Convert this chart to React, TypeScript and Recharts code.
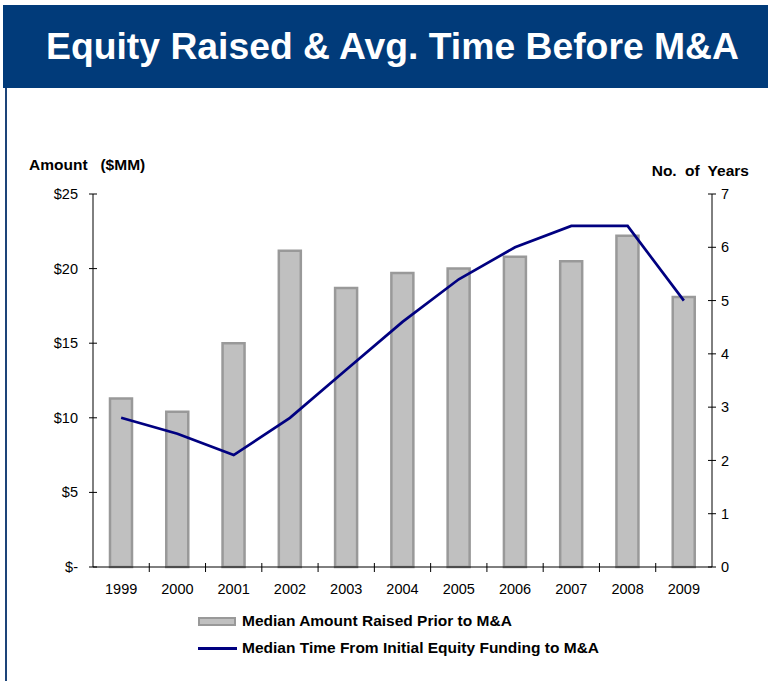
import React from 'react'
import { ComposedChart, Bar, Line, XAxis, YAxis } from 'recharts'

const years = ['1999', '2000', '2001', '2002', '2003', '2004', '2005', '2006', '2007', '2008', '2009']
const amountRaised = [11.3, 10.4, 15.0, 21.2, 18.7, 19.7, 20.0, 20.8, 20.5, 22.2, 18.1]
const yearsToMA = [2.8, 2.5, 2.1, 2.8, 3.7, 4.6, 5.4, 6.0, 6.4, 6.4, 5.0]
const amountTicks = [0, 5, 10, 15, 20, 25]
const yearTicks = [0, 1, 2, 3, 4, 5, 6, 7]

const data = years.map((y, i) => ({ year: y, amount: amountRaised[i], time: yearsToMA[i] }))

const FONT = '"Liberation Sans", Arial, sans-serif'
const PLOT_LEFT = 93
const PLOT_RIGHT = 712
const BAND = (PLOT_RIGHT - PLOT_LEFT) / years.length
const TICK_FS = 14.5

function LeftTick(props: any) {
  const { x, y, payload } = props
  const axisX = x + 15
  const v = Number(payload.value)
  return (
    <g>
      <line x1={axisX - 4} x2={axisX + 4} y1={y} y2={y} stroke="#000" />
      <text x={x} y={y} dy="0.35em" textAnchor="end" fontSize={TICK_FS} fontFamily={FONT} fill="#000">
        {v === 0 ? '$-' : `$${v}`}
      </text>
    </g>
  )
}

function RightTick(props: any) {
  const { x, y, payload } = props
  const axisX = x - 9
  return (
    <g>
      <line x1={axisX - 4} x2={axisX + 4} y1={y} y2={y} stroke="#000" />
      <text x={x} y={y} dy="0.35em" textAnchor="start" fontSize={TICK_FS} fontFamily={FONT} fill="#000">
        {payload.value}
      </text>
    </g>
  )
}

function BottomTick(props: any) {
  const { x, y, payload, index } = props
  const bx = x + BAND / 2
  return (
    <g>
      {index < years.length - 1 && <line x1={bx} x2={bx} y1={y - 4} y2={y + 5} stroke="#000" />}
      <text x={x} y={y + 22} dy="0.35em" textAnchor="middle" fontSize={TICK_FS} fontFamily={FONT} fill="#000">
        {payload.value}
      </text>
    </g>
  )
}

export default function App() {
  return (
    <div style={{ position: 'absolute', left: 0, top: 0, width: 768, height: 681, background: '#fff', fontFamily: FONT, overflow: 'hidden' }}>
      {/* title band */}
      <div
        style={{
          position: 'absolute',
          left: 3,
          top: 5,
          width: 765,
          height: 83,
          background: '#013b7a',
          color: '#fff',
          fontWeight: 'bold',
          fontSize: 37.3,
          lineHeight: '83px',
          textAlign: 'center',
          whiteSpace: 'nowrap',
          boxSizing: 'border-box',
          paddingLeft: 14,
        }}
      >
        Equity Raised &amp; Avg. Time Before M&amp;A
      </div>
      <div style={{ position: 'absolute', left: 5, top: 88, width: 2, height: 593, background: '#1d4479' }} />

      <div style={{ position: 'absolute', left: 29, top: 156, fontSize: 15.5, fontWeight: 'bold', whiteSpace: 'pre' }}>
        {'Amount   ($MM)'}
      </div>
      <div style={{ position: 'absolute', right: 19, top: 162, fontSize: 15.5, fontWeight: 'bold', wordSpacing: 4 }}>
        No. of Years
      </div>

      <div style={{ position: 'absolute', left: 0, top: 0 }}>
        <ComposedChart
          width={768}
          height={681}
          data={data}
          margin={{ top: 194, right: 768 - PLOT_RIGHT - 40, bottom: 681 - 567 - 30, left: PLOT_LEFT - 60 }}
        >
          <XAxis
            dataKey="year"
            height={30}
            stroke="#000"
            tickLine={false}
            tickSize={0}
            tickMargin={0}
            tick={<BottomTick />}
            interval={0}
          />
          <YAxis
            yAxisId="left"
            width={60}
            domain={[0, 25]}
            ticks={amountTicks}
            stroke="#000"
            tickLine={false}
            tickSize={0}
            tickMargin={15}
            tick={<LeftTick />}
            interval={0}
          />
          <YAxis
            yAxisId="right"
            orientation="right"
            width={40}
            domain={[0, 7]}
            ticks={yearTicks}
            stroke="#000"
            tickLine={false}
            tickSize={0}
            tickMargin={9}
            tick={<RightTick />}
            interval={0}
          />
          <Bar
            yAxisId="left"
            dataKey="amount"
            barSize={22}
            fill="#c0c0c0"
            stroke="#999999"
            strokeWidth={2.5}
            isAnimationActive={false}
          />
          <Line
            yAxisId="right"
            dataKey="time"
            type="linear"
            stroke="#000080"
            strokeWidth={2.7}
            dot={false}
            isAnimationActive={false}
          />
        </ComposedChart>
      </div>

      {/* legend */}
      <div style={{ position: 'absolute', left: 198, top: 611, fontSize: 15.5, fontWeight: 'bold', whiteSpace: 'nowrap' }}>
        <div style={{ display: 'flex', alignItems: 'center', height: 20 }}>
          <div style={{ width: 34, height: 5, background: '#c0c0c0', border: '2px solid #999', marginRight: 6 }} />
          Median Amount Raised Prior to M&amp;A
        </div>
        <div style={{ display: 'flex', alignItems: 'center', height: 20, marginTop: 7 }}>
          <div style={{ width: 39, height: 3, background: '#000080', marginRight: 5 }} />
          Median Time From Initial Equity Funding to M&amp;A
        </div>
      </div>
    </div>
  )
}
